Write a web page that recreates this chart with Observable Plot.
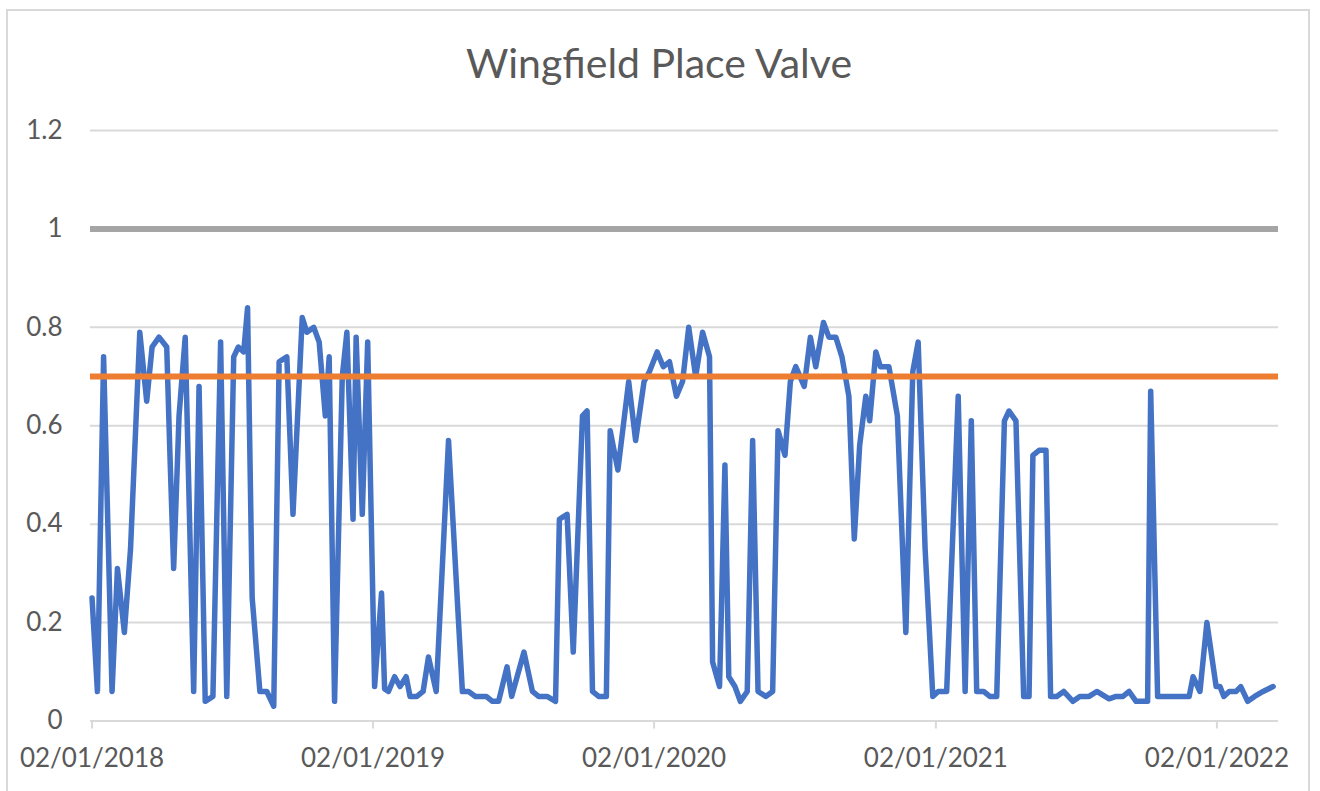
<!DOCTYPE html>
<html>
<head>
<meta charset="utf-8">
<script src="https://cdn.jsdelivr.net/npm/d3@7"></script>
<script src="https://cdn.jsdelivr.net/npm/@observablehq/plot@0.6"></script>
<style>
  html, body { margin: 0; padding: 0; background: #fff; overflow: hidden; }
  body { width: 1320px; height: 791px; position: relative; font-family: Lato, "Open Sans", sans-serif; }
  #frame { position: absolute; left: 6px; top: 9px; width: 1304px; height: 900px; border: 2px solid #d9d9d9; box-sizing: border-box; }
  #title { position: absolute; left: 0; top: 42px; width: 1318px; text-align: center; font-size: 41px; line-height: 1; color: #595959; }
  #chart { position: absolute; left: 0; top: 100px; }
</style>
</head>
<body>
<div id="frame"></div>
<div id="title">Wingfield Place Valve</div>
<div id="chart"></div>
<script>
const dates = [
  "2018-01-02","2018-01-09","2018-01-17","2018-01-28","2018-02-04","2018-02-13","2018-02-21","2018-03-05","2018-03-14","2018-03-21",
  "2018-03-30","2018-04-09","2018-04-13","2018-04-18","2018-04-25","2018-05-03","2018-05-14","2018-05-21","2018-05-29","2018-06-08",
  "2018-06-18","2018-06-26","2018-07-05","2018-07-11","2018-07-18","2018-07-23","2018-07-29","2018-08-08","2018-08-17","2018-08-26",
  "2018-09-02","2018-09-12","2018-09-20","2018-10-02","2018-10-08","2018-10-17","2018-10-24","2018-11-01","2018-11-06","2018-11-13",
  "2018-11-23","2018-11-29","2018-12-07","2018-12-11","2018-12-19","2018-12-26",
  "2019-01-04","2019-01-13","2019-01-17","2019-01-22","2019-01-30","2019-02-06","2019-02-14","2019-02-19","2019-02-28","2019-03-08",
  "2019-03-15","2019-03-25","2019-04-10","2019-04-28","2019-05-06","2019-05-15","2019-05-29","2019-06-06","2019-06-14","2019-06-25",
  "2019-07-01","2019-07-17","2019-07-28","2019-08-05","2019-08-16","2019-08-27","2019-09-01","2019-09-11","2019-09-19","2019-10-01",
  "2019-10-07","2019-10-14","2019-10-22","2019-11-01","2019-11-06","2019-11-16","2019-11-30","2019-12-09","2019-12-20","2019-12-27",
  "2020-01-06","2020-01-14","2020-01-22","2020-01-31","2020-02-08","2020-02-16","2020-02-25","2020-03-05","2020-03-14","2020-03-18",
  "2020-03-27","2020-04-03","2020-04-08","2020-04-16","2020-04-23","2020-05-02","2020-05-09","2020-05-16","2020-05-26","2020-06-04",
  "2020-06-11","2020-06-20","2020-06-27","2020-07-04","2020-07-15","2020-07-23","2020-07-30","2020-08-09","2020-08-16","2020-08-25",
  "2020-09-02","2020-09-11","2020-09-18","2020-09-25","2020-10-03","2020-10-08","2020-10-16","2020-10-22","2020-11-02","2020-11-13",
  "2020-11-24","2020-12-03","2020-12-10","2020-12-19","2020-12-29",
  "2021-01-05","2021-01-16","2021-01-31","2021-02-09","2021-02-17","2021-02-24","2021-03-05","2021-03-13","2021-03-22","2021-04-01",
  "2021-04-07","2021-04-16","2021-04-26","2021-05-03","2021-05-08","2021-05-16","2021-05-25","2021-05-31","2021-06-08","2021-06-17",
  "2021-06-29","2021-07-08","2021-07-20","2021-07-30","2021-08-15","2021-08-24","2021-09-02","2021-09-10","2021-09-19","2021-10-04",
  "2021-10-08","2021-10-17","2021-11-08","2021-11-27","2021-12-02","2021-12-11","2021-12-20",
  "2022-01-01","2022-01-06","2022-01-11","2022-01-18","2022-01-27","2022-02-02","2022-02-11","2022-02-20","2022-03-03","2022-03-16"
];
const values = [
  0.25,0.06,0.74,0.06,0.31,0.18,0.35,0.79,0.65,0.76,
  0.78,0.76,0.55,0.31,0.62,0.78,0.06,0.68,0.04,0.05,
  0.77,0.05,0.74,0.76,0.75,0.84,0.25,0.06,0.06,0.03,
  0.73,0.74,0.42,0.82,0.79,0.80,0.77,0.62,0.74,0.04,
  0.70,0.79,0.41,0.78,0.42,0.77,
  0.07,0.26,0.065,0.06,0.09,0.07,0.09,0.05,0.05,0.06,
  0.13,0.06,0.57,0.06,0.06,0.05,0.05,0.04,0.04,0.11,
  0.05,0.14,0.06,0.05,0.05,0.04,0.41,0.42,0.14,0.62,
  0.63,0.06,0.05,0.05,0.59,0.51,0.69,0.57,0.69,0.71,
  0.75,0.72,0.73,0.66,0.69,0.80,0.70,0.79,0.74,0.12,
  0.07,0.52,0.09,0.07,0.04,0.06,0.57,0.06,0.05,0.06,
  0.59,0.54,0.69,0.72,0.68,0.78,0.72,0.81,0.78,0.78,
  0.74,0.66,0.37,0.56,0.66,0.61,0.75,0.72,0.72,0.62,
  0.18,0.71,0.77,0.35,0.05,
  0.06,0.06,0.66,0.06,0.61,0.06,0.06,0.05,0.05,0.61,
  0.63,0.61,0.05,0.05,0.54,0.55,0.55,0.05,0.05,0.06,
  0.04,0.05,0.05,0.06,0.045,0.05,0.05,0.06,0.04,0.04,
  0.67,0.05,0.05,0.05,0.09,0.06,0.20,
  0.07,0.07,0.05,0.06,0.06,0.07,0.04,0.05,0.06,0.07
];
const upperLimit = [1];
const threshold = [0.7];
const yTicks = [0, 0.2, 0.4, 0.6, 0.8, 1, 1.2];
const xTicks = ["2018-01-02","2019-01-02","2020-01-02","2021-01-02","2022-01-02"];
const xDomain = ["2017-12-31","2022-03-23"];

const data = dates.map((d, i) => ({date: new Date(d), value: values[i]}));

const chart = Plot.plot({
  width: 1320,
  height: 691,
  marginTop: 30,
  marginBottom: 70.5,
  marginLeft: 90,
  marginRight: 42,
  style: {fontFamily: "Lato, 'Open Sans', sans-serif", fontSize: "26px", color: "#595959", background: "transparent", overflow: "visible"},
  x: {type: "utc", domain: xDomain.map(d => new Date(d))},
  y: {domain: [0, 1.2]},
  marks: [
    Plot.ruleY(yTicks, {stroke: "#d9d9d9", strokeWidth: 2}),
    Plot.axisX({ticks: xTicks.map(d => new Date(d)), tickFormat: d3.utcFormat("%d/%m/%Y"), tickSize: 8, tickPadding: 20, stroke: "#d9d9d9", strokeWidth: 2, fill: "#595959", label: null}),
    Plot.axisY({ticks: yTicks, tickFormat: d => String(d), tickSize: 0, tickPadding: 28, fill: "#595959", label: null}),
    Plot.ruleY(upperLimit, {stroke: "#a5a5a5", strokeWidth: 6}),
    Plot.line(data, {x: "date", y: "value", stroke: "#4472c4", strokeWidth: 5.5, strokeLinejoin: "round", strokeLinecap: "round"}),
    Plot.ruleY(threshold, {stroke: "#ed7d31", strokeWidth: 6})
  ]
});
document.getElementById("chart").appendChild(chart);
</script>
</body>
</html>
